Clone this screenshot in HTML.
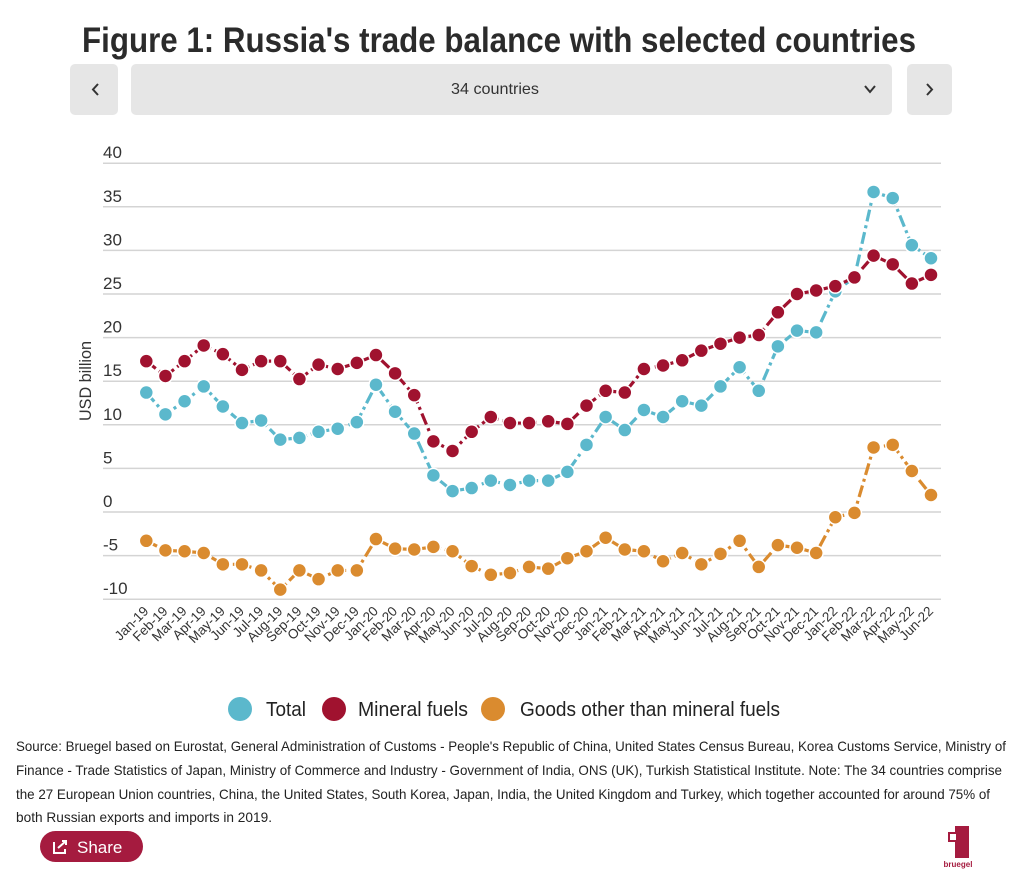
<!DOCTYPE html>
<html><head><meta charset="utf-8"><style>
body{margin:0;background:#fff;width:1024px;height:891px;overflow:hidden;font-family:"Liberation Sans Narrow","Liberation Sans",sans-serif;}
svg{position:absolute;left:0;top:0}
</style></head><body>
<svg width="1024" height="891" viewBox="0 0 1024 891">
<text x="82" y="52" font-family="Liberation Sans Narrow, Liberation Sans, sans-serif" font-weight="bold" font-size="35" fill="#2b2b2b" textLength="834" lengthAdjust="spacingAndGlyphs">Figure 1: Russia's trade balance with selected countries</text>
<g><rect x="70" y="64" width="48" height="51" rx="5" fill="#e6e6e6"/><path d="M98 84 L93 89.5 L98 95" stroke="#333" stroke-width="2" fill="none"/></g>
<g><rect x="131" y="64" width="761" height="51" rx="5" fill="#e6e6e6"/><text x="495" y="94" text-anchor="middle" font-size="16" fill="#333" textLength="88" lengthAdjust="spacingAndGlyphs">34 countries</text><path d="M865 86 L870 92 L875 86" stroke="#333" stroke-width="2" fill="none"/></g>
<g><rect x="907" y="64" width="45" height="51" rx="5" fill="#e6e6e6"/><path d="M927 84 L932 89.5 L927 95" stroke="#333" stroke-width="2" fill="none"/></g>
<g id="grid"></g>
<text transform="translate(91,381) rotate(-90)" text-anchor="middle" font-size="17" fill="#333" textLength="80" lengthAdjust="spacingAndGlyphs">USD billion</text>
<g id="xlabels"></g>
<g id="series"></g>
<g>
<g><circle cx="240" cy="709" r="12" fill="#5bb8cc"/><text x="266" y="716" font-size="20" fill="#222" textLength="40" lengthAdjust="spacingAndGlyphs">Total</text></g>
<g><circle cx="334" cy="709" r="12" fill="#a0122f"/><text x="358" y="716" font-size="20" fill="#222" textLength="110" lengthAdjust="spacingAndGlyphs">Mineral fuels</text></g>
<g><circle cx="493" cy="709" r="12" fill="#da8b2f"/><text x="520" y="716" font-size="20" fill="#222" textLength="260" lengthAdjust="spacingAndGlyphs">Goods other than mineral fuels</text></g>
</g>
<g font-size="14" fill="#222">
<text x="16" y="751" textLength="990" lengthAdjust="spacingAndGlyphs">Source: Bruegel based on Eurostat, General Administration of Customs - People's Republic of China, United States Census Bureau, Korea Customs Service, Ministry of</text>
<text x="16" y="775" textLength="986" lengthAdjust="spacingAndGlyphs">Finance - Trade Statistics of Japan, Ministry of Commerce and Industry - Government of India, ONS (UK), Turkish Statistical Institute. Note: The 34 countries comprise</text>
<text x="16" y="799" textLength="974" lengthAdjust="spacingAndGlyphs">the 27 European Union countries, China, the United States, South Korea, Japan, India, the United Kingdom and Turkey, which together accounted for around 75% of</text>
<text x="16" y="822" textLength="256" lengthAdjust="spacingAndGlyphs">both Russian exports and imports in 2019.</text>
</g>
<g><rect x="40" y="831" width="103" height="31" rx="15.5" fill="#a51b3f"/><path d="M54 842 v11 h11 v-4 M58 848 l8 -7 M62 841 h4 v4" stroke="#fff" stroke-width="2" fill="none"/><text x="77" y="853" font-size="17" fill="#fff">Share</text></g>
<g><rect x="955" y="826" width="14" height="32" fill="#a51b3f"/><rect x="948" y="832" width="10" height="10" fill="#a51b3f"/><rect x="950" y="834" width="6" height="6" fill="#fff"/><rect x="955" y="826" width="6" height="5" fill="#a51b3f"/><text x="958" y="867" font-size="8" font-weight="bold" fill="#a51b3f" text-anchor="middle">bruegel</text></g>
</svg>
<script>
const NS='http://www.w3.org/2000/svg';
const months=['Jan','Feb','Mar','Apr','May','Jun','Jul','Aug','Sep','Oct','Nov','Dec'];
const categories=[];
for(let y=19;y<=22;y++)for(let m=0;m<12;m++){if(y===22&&m>5)break;categories.push(months[m]+'-'+y);}
const yTicks=[-10,-5,0,5,10,15,20,25,30,35,40];
const totalValues=[13.7,11.2,12.7,14.4,12.1,10.2,10.5,8.3,8.5,9.2,9.55,10.3,14.6,11.5,9.0,4.2,2.4,2.75,3.6,3.1,3.6,3.6,4.6,7.7,10.9,9.4,11.7,10.9,12.7,12.2,14.4,16.6,13.9,19.0,20.8,20.6,25.3,26.9,36.7,36.0,30.6,29.1];
const fuelValues=[17.3,15.6,17.3,19.1,18.1,16.3,17.3,17.3,15.25,16.9,16.4,17.1,18.0,15.9,13.4,8.1,7.0,9.2,10.9,10.2,10.2,10.4,10.1,12.2,13.9,13.7,16.4,16.8,17.4,18.5,19.3,20.0,20.3,22.9,25.0,25.4,25.9,26.9,29.4,28.4,26.2,27.2];
const otherValues=[-3.3,-4.4,-4.5,-4.7,-6.0,-6.0,-6.7,-8.9,-6.7,-7.7,-6.7,-6.7,-3.1,-4.2,-4.3,-4.0,-4.5,-6.2,-7.2,-7.0,-6.3,-6.5,-5.3,-4.5,-2.95,-4.3,-4.5,-5.65,-4.7,-6.0,-4.8,-3.3,-6.3,-3.8,-4.1,-4.7,-0.6,-0.1,7.4,7.7,4.7,1.95];
const X0=146.3,X1=931,Y0=512,YS=8.72;
const xs=i=>X0+i*(X1-X0)/(categories.length-1);
const ys=v=>Y0-v*YS;
const grid=document.getElementById('grid');
yTicks.forEach(t=>{
  const l=document.createElementNS(NS,'line');
  l.setAttribute('x1',103);l.setAttribute('x2',941);l.setAttribute('y1',ys(t));l.setAttribute('y2',ys(t));
  l.setAttribute('stroke','#d4d4d4');l.setAttribute('stroke-width','1.5');
  
  
  grid.appendChild(l);
  const tx=document.createElementNS(NS,'text');
  tx.setAttribute('x',103);tx.setAttribute('y',ys(t)-5);tx.setAttribute('font-size','17');tx.setAttribute('fill','#333');
  tx.textContent=t;
  
  
  grid.appendChild(tx);
});
const xl=document.getElementById('xlabels');
categories.forEach((c,i)=>{
  const tx=document.createElementNS(NS,'text');
  const x=xs(i)+3,y=612;
  tx.setAttribute('transform','translate('+x+','+y+') rotate(-45)');
  tx.setAttribute('text-anchor','end');tx.setAttribute('font-size','13.5');tx.setAttribute('fill','#333');
  tx.textContent=c;
  
  
  xl.appendChild(tx);
});
const sg=document.getElementById('series');
function draw(vals,color,name){
  const g=document.createElementNS(NS,'g');
  
  
  const p=document.createElementNS(NS,'polyline');
  p.setAttribute('points',vals.map((v,i)=>xs(i)+','+ys(v)).join(' '));
  p.setAttribute('fill','none');p.setAttribute('stroke',color);p.setAttribute('stroke-width','3.2');
  p.setAttribute('stroke-dasharray','12,4,3,4');
  
  
  g.appendChild(p);
  vals.forEach((v,i)=>{
    const c=document.createElementNS(NS,'circle');
    c.setAttribute('cx',xs(i));c.setAttribute('cy',ys(v));c.setAttribute('r','7');
    c.setAttribute('fill',color);c.setAttribute('stroke','#fff');c.setAttribute('stroke-width','1.5');
    
    
    g.appendChild(c);
  });
  sg.appendChild(g);
}
draw(otherValues,'#da8b2f','goods-other');
draw(totalValues,'#5bb8cc','total');
draw(fuelValues,'#a0122f','mineral-fuels');
</script>
</body></html>
